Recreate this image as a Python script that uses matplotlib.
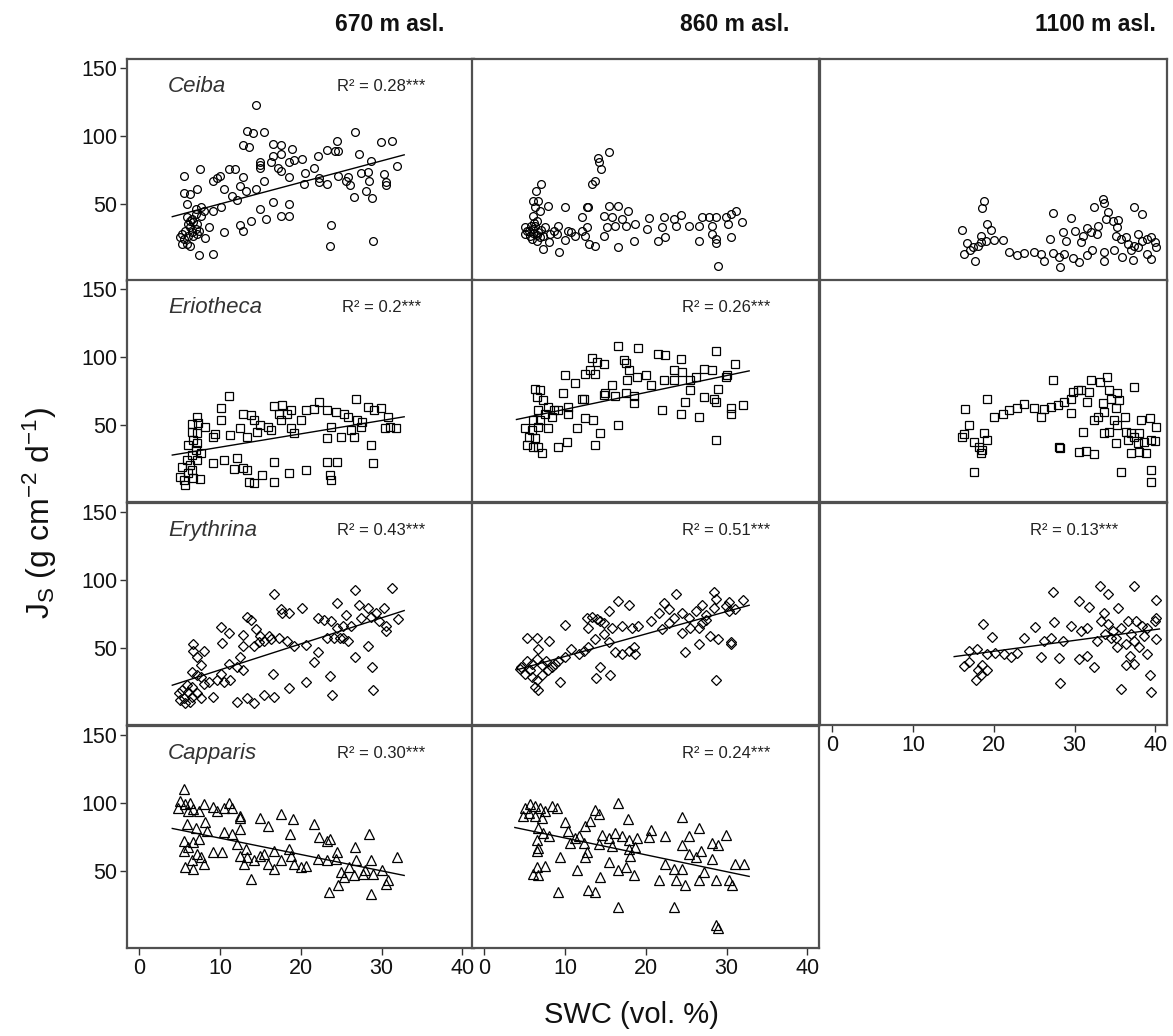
import matplotlib
matplotlib.use('Agg')
import matplotlib.pyplot as plt

plt.rcParams['font.family'] = ['Liberation Sans', 'DejaVu Sans']
plt.rcParams['mathtext.fontset'] = 'custom'
plt.rcParams['mathtext.rm'] = 'Liberation Sans'
plt.rcParams['mathtext.it'] = 'Liberation Sans:italic'

# column / row labels
sites = ['670 m asl.', '860 m asl.', '1100 m asl.']
species = ['Ceiba', 'Eriotheca', 'Erythrina', 'Capparis']

# (SWC %, Js) pairs
ceiba_670 = [(14.4, 122.4), (13.3, 103.7), (14.1, 102.2), (15.4, 103.2), (12.9, 93.4), (13.6, 92.0), (16.6, 94.4),
             (17.6, 93.4), (18.9, 90.7), (26.7, 103.2), (29.9, 95.6), (31.3, 96.3), (24.5, 95.9), (23.3, 89.5),
             (24.2, 89.0), (27.2, 86.6), (22.1, 85.1), (20.2, 83.4), (17.5, 86.6), (16.6, 84.9), (15.0, 81.2),
             (14.9, 78.8), (16.3, 80.5), (14.9, 76.3), (17.2, 76.8), (17.5, 74.4), (18.6, 69.5), (20.5, 72.7),
             (21.6, 76.1), (22.3, 69.0), (22.3, 65.9), (20.4, 64.6), (23.3, 64.6), (24.6, 70.2), (25.8, 69.5),
             (25.6, 67.1), (26.1, 64.1), (26.6, 54.9), (28.3, 73.2), (27.5, 72.4), (28.7, 81.7), (28.5, 67.1),
             (28.1, 59.3), (28.8, 54.4), (30.3, 72.0), (30.6, 66.3), (30.6, 64.1), (31.9, 77.6), (23.7, 34.9),
             (23.6, 19.5), (28.9, 22.7), (15.5, 67.1), (18.5, 50.0), (18.5, 41.0), (17.5, 41.0), (16.6, 51.7),
             (15.0, 46.3), (15.7, 39.0), (13.8, 37.8), (12.5, 34.9), (12.8, 30.5), (10.5, 29.8), (9.2, 13.4),
             (7.4, 12.7), (8.2, 24.9), (8.6, 33.4), (9.2, 45.1), (10.1, 47.6), (9.6, 69.0), (10.0, 70.7),
             (9.2, 66.6), (10.5, 61.0), (11.1, 75.6), (11.9, 75.6), (12.8, 70.0), (12.5, 63.4), (13.2, 59.8),
             (11.5, 56.1), (12.1, 53.2), (5.6, 70.7), (7.5, 75.6), (7.2, 61.0), (5.6, 57.8), (6.3, 57.3),
             (5.9, 50.0), (7.0, 46.3), (7.6, 47.6), (5.9, 40.2), (6.5, 39.0), (6.7, 36.6), (6.1, 35.4), (7.2, 35.4),
             (6.3, 32.9), (7.0, 31.7), (5.7, 30.5), (6.5, 29.3), (7.4, 30.5), (5.3, 28.0), (6.1, 26.8), (6.7, 26.8),
             (5.1, 26.1), (5.6, 24.4), (5.9, 20.7), (5.3, 20.7), (6.3, 19.5), (7.6, 41.5), (8.0, 45.1), (7.0, 42.7),
             (7.2, 28.0), (6.3, 37.8), (14.4, 61.0), (19.2, 82.4), (18.6, 81.2), (24.6, 89.0)]
ceiba_860 = [(15.5, 88.5), (14.1, 83.7), (14.2, 80.5), (14.5, 75.6), (13.3, 64.6), (13.7, 66.6), (7.0, 64.6),
             (6.4, 59.3), (6.1, 52.4), (6.7, 52.4), (6.3, 47.6), (6.9, 45.1), (7.9, 48.8), (10.0, 47.6), (12.7, 48.0),
             (12.9, 47.6), (12.1, 40.2), (15.4, 48.8), (16.6, 48.8), (17.8, 45.1), (14.8, 41.5), (15.8, 40.2),
             (17.1, 39.0), (17.5, 34.1), (18.7, 35.4), (20.4, 39.8), (22.2, 40.2), (23.5, 39.0), (24.4, 42.0),
             (23.7, 34.1), (25.3, 34.1), (26.6, 34.1), (27.0, 40.2), (27.8, 40.2), (28.7, 40.7), (29.9, 40.7),
             (30.5, 42.7), (31.2, 44.6), (31.9, 36.6), (30.2, 35.4), (28.2, 34.1), (28.2, 28.0), (28.7, 24.4),
             (28.7, 21.2), (30.5, 26.1), (26.6, 23.2), (22.0, 32.9), (22.4, 26.1), (21.5, 23.2), (20.2, 31.7),
             (18.5, 23.2), (16.6, 18.8), (15.2, 32.9), (14.8, 26.8), (13.7, 19.5), (13.0, 20.7), (12.7, 32.9),
             (12.1, 30.5), (12.5, 26.8), (9.3, 14.6), (7.3, 17.1), (8.0, 22.0), (6.5, 23.2), (9.2, 34.1),
             (10.4, 30.5), (11.3, 26.8), (10.0, 23.7), (5.05, 32.9), (5.5, 30.5), (6.1, 31.7), (6.7, 29.3),
             (7.3, 26.8), (5.7, 26.8), (5.05, 28.0), (6.3, 34.1), (7.5, 32.9), (8.2, 28.0), (6.9, 25.6), (5.9, 24.4),
             (6.0, 41.5), (6.5, 37.8), (28.9, 4.4), (8.6, 30.5), (9.0, 28.0), (10.8, 29.3), (16.2, 34.1),
             (5.3, 30.0), (6.0, 29.0), (6.6, 27.0), (7.0, 31.0), (5.8, 33.5), (6.2, 36.0)]
ceiba_1100 = [(18.8, 52.4), (18.6, 47.1), (16.1, 31.0), (19.2, 35.4), (19.6, 31.0), (18.4, 26.8), (19.0, 23.2),
              (20.0, 23.7), (21.1, 23.7), (16.7, 21.2), (17.4, 18.3), (18.0, 19.5), (18.4, 22.0), (16.3, 13.4),
              (17.1, 15.9), (17.7, 8.5), (21.9, 14.6), (22.9, 12.9), (23.8, 13.9), (25.0, 14.6), (25.8, 13.4),
              (26.2, 8.5), (27.3, 13.9), (28.1, 11.0), (28.2, 4.1), (27.3, 43.2), (27.0, 24.4), (29.5, 39.8),
              (28.6, 29.3), (30.0, 30.5), (31.1, 26.8), (31.5, 32.4), (32.0, 29.3), (32.8, 28.0), (32.9, 34.1),
              (32.4, 47.6), (28.9, 23.2), (30.8, 22.0), (29.8, 10.5), (30.6, 7.3), (31.6, 12.2), (32.2, 15.9),
              (33.5, 53.7), (33.7, 50.5), (34.1, 43.9), (33.9, 39.0), (34.7, 37.8), (35.4, 38.3), (33.6, 14.6),
              (33.7, 8.5), (34.9, 16.3), (35.1, 26.8), (35.7, 24.4), (36.6, 20.7), (37.4, 19.5), (35.9, 11.0),
              (37.2, 9.0), (37.3, 47.6), (38.3, 42.7), (35.3, 32.9), (37.8, 28.0), (38.4, 23.2), (39.0, 24.4),
              (39.5, 25.6), (39.9, 22.0), (40.1, 18.3), (39.0, 13.4), (39.4, 9.8), (37.0, 15.9), (37.8, 18.8),
              (36.4, 26.1), (28.7, 13.4)]
eriotheca_670 = [(11.1, 71.2), (10.1, 62.2), (10.1, 53.7), (7.1, 55.6), (7.3, 51.7), (6.5, 50.7), (6.5, 45.1),
                 (6.7, 39.0), (6.1, 35.4), (7.2, 43.9), (7.2, 36.6), (7.6, 29.3), (7.2, 24.4), (8.1, 48.3),
                 (9.2, 41.5), (9.4, 43.4), (11.3, 42.7), (12.5, 47.6), (13.4, 41.5), (12.9, 58.5), (13.8, 57.3),
                 (14.2, 53.7), (14.9, 50.0), (14.6, 45.1), (15.9, 48.8), (16.3, 46.3), (16.7, 63.9), (17.7, 64.6),
                 (17.3, 58.5), (18.3, 58.5), (18.8, 61.0), (17.5, 53.7), (18.8, 47.6), (19.2, 43.9), (20.0, 53.7),
                 (20.6, 61.0), (21.7, 61.5), (22.3, 67.1), (23.3, 61.0), (24.3, 59.8), (25.4, 58.5), (25.8, 56.1),
                 (23.7, 48.8), (25.0, 41.5), (23.3, 40.2), (26.8, 69.5), (26.2, 46.3), (26.6, 41.0), (27.5, 48.8),
                 (28.3, 63.4), (29.1, 61.0), (29.9, 62.2), (30.8, 56.1), (31.0, 48.8), (30.4, 47.6), (31.8, 47.6),
                 (28.7, 35.4), (28.9, 21.9), (27.0, 53.7), (27.6, 52.4), (9.2, 22.0), (10.5, 24.4), (12.1, 25.6),
                 (11.7, 17.6), (12.8, 18.3), (13.4, 17.1), (13.6, 8.5), (14.2, 7.3), (15.2, 13.4), (16.7, 23.2),
                 (16.7, 8.5), (18.6, 14.6), (20.6, 17.1), (23.3, 23.2), (24.5, 23.2), (23.6, 13.4), (23.8, 9.8),
                 (5.1, 12.2), (5.5, 9.8), (5.7, 6.1), (6.1, 14.6), (6.5, 17.1), (6.3, 20.7), (5.3, 19.5), (6.7, 11.0),
                 (5.9, 24.4), (6.5, 28.0), (7.0, 31.7), (7.5, 10.2)]
eriotheca_860 = [(16.6, 107.8), (19.0, 106.8), (21.5, 102.4), (22.4, 101.2), (24.4, 98.8), (28.7, 104.4),
                 (31.1, 95.1), (13.3, 99.5), (14.0, 96.3), (14.8, 94.6), (17.3, 98.0), (17.5, 95.6), (17.9, 90.2),
                 (10.0, 86.6), (11.2, 81.0), (12.5, 87.8), (13.1, 90.2), (13.7, 87.8), (9.8, 73.7), (12.3, 69.5),
                 (15.0, 73.2), (15.8, 79.3), (17.7, 83.4), (18.9, 85.4), (20.0, 86.6), (20.7, 79.3), (22.2, 82.9),
                 (23.5, 90.2), (23.5, 83.4), (24.5, 89.0), (25.5, 82.9), (26.2, 85.4), (27.2, 91.5), (28.2, 90.2),
                 (29.9, 85.4), (30.1, 86.6), (14.8, 72.0), (16.2, 71.2), (17.5, 73.2), (18.5, 71.2), (18.5, 65.9),
                 (22.0, 61.0), (24.4, 58.5), (26.6, 56.1), (24.9, 67.1), (27.2, 70.7), (28.4, 69.5), (28.9, 76.8),
                 (28.7, 67.1), (25.5, 76.1), (30.5, 62.2), (30.6, 58.5), (32.0, 64.6), (28.7, 39.0), (9.2, 61.0),
                 (10.4, 58.5), (10.4, 63.4), (12.1, 68.8), (12.5, 54.9), (13.5, 53.7), (11.5, 47.6), (14.4, 44.4),
                 (16.6, 50.0), (13.7, 35.4), (10.2, 37.8), (9.2, 33.7), (6.3, 76.8), (6.9, 75.6), (6.5, 70.7),
                 (7.3, 68.3), (7.9, 63.4), (6.7, 61.0), (7.5, 58.5), (6.1, 53.7), (6.9, 53.7), (8.4, 56.1),
                 (5.1, 47.6), (5.9, 46.3), (6.7, 48.8), (7.9, 47.6), (5.5, 41.5), (6.3, 40.2), (5.3, 35.4),
                 (6.1, 34.1), (6.7, 34.1), (7.1, 29.3), (8.6, 61.0)]
eriotheca_1100 = [(16.5, 61.5), (16.9, 50.0), (16.3, 43.4), (16.1, 41.5), (19.2, 68.8), (17.6, 37.8), (18.2, 34.1),
                  (18.6, 31.7), (19.2, 39.0), (18.4, 29.3), (17.5, 15.9), (18.8, 44.4), (20.0, 56.1), (21.1, 58.5),
                  (21.9, 61.0), (22.9, 62.2), (23.8, 65.4), (25.0, 62.7), (26.2, 61.5), (27.1, 63.4), (27.9, 64.6),
                  (28.7, 67.1), (29.5, 69.5), (30.4, 75.6), (27.3, 82.9), (25.8, 55.6), (29.5, 59.0), (29.8, 74.4),
                  (30.8, 75.6), (31.6, 67.1), (31.8, 74.4), (32.0, 83.4), (33.1, 81.7), (34.0, 85.4), (33.5, 65.9),
                  (33.7, 59.8), (34.3, 75.6), (34.5, 69.5), (35.3, 73.2), (35.1, 62.2), (35.5, 68.3), (37.4, 78.0),
                  (32.4, 53.7), (32.9, 56.1), (34.9, 53.7), (35.3, 50.0), (36.2, 56.1), (31.1, 45.1), (33.7, 44.4),
                  (34.3, 45.1), (35.1, 37.1), (36.4, 45.1), (36.6, 39.0), (37.4, 41.5), (38.0, 43.9), (38.2, 53.7),
                  (39.3, 54.9), (40.1, 48.3), (37.8, 36.6), (38.6, 37.8), (39.5, 39.0), (39.9, 38.5), (38.0, 30.5),
                  (37.0, 29.3), (38.8, 29.8), (28.1, 34.1), (28.2, 33.4), (30.6, 30.5), (31.4, 31.2), (32.4, 28.8),
                  (35.7, 15.9), (39.4, 17.1), (39.5, 8.5), (37.0, 43.9)]
erythrina_670 = [(16.7, 89.6), (13.3, 72.7), (13.8, 70.3), (14.4, 63.8), (10.1, 65.5), (11.1, 61.4), (10.3, 53.4),
                 (12.8, 59.7), (17.6, 78.3), (18.6, 75.8), (20.2, 79.5), (17.7, 75.8), (22.1, 72.2), (22.9, 70.3),
                 (23.7, 69.8), (24.5, 83.1), (25.6, 74.6), (26.7, 92.8), (27.2, 81.9), (28.3, 79.5), (29.3, 75.8),
                 (30.3, 79.5), (31.3, 94.4), (30.6, 66.2), (30.6, 62.6), (32.0, 71.0), (29.7, 69.8), (28.7, 72.7),
                 (27.5, 72.2), (26.2, 66.2), (25.2, 66.2), (24.5, 65.0), (23.3, 57.7), (24.1, 57.7), (24.8, 57.7),
                 (25.2, 57.7), (25.8, 55.3), (28.3, 51.7), (26.7, 43.2), (28.8, 36.0), (29.0, 19.1), (23.6, 29.2),
                 (23.9, 15.5), (22.1, 46.9), (21.6, 39.6), (20.6, 25.1), (18.6, 20.3), (16.7, 14.3), (16.6, 31.2),
                 (15.5, 15.5), (14.2, 9.4), (13.4, 13.0), (12.1, 10.6), (12.9, 51.7), (9.2, 14.3), (7.6, 13.0),
                 (12.9, 33.6), (20.6, 52.4), (19.2, 51.7), (18.3, 55.3), (17.3, 57.7), (16.3, 56.5), (15.4, 55.3),
                 (14.8, 54.1), (14.2, 51.7), (15.0, 58.9), (16.1, 58.9), (12.5, 43.2), (12.1, 36.0), (11.1, 38.4),
                 (10.1, 31.2), (11.3, 26.3), (10.5, 25.1), (9.6, 26.3), (8.6, 25.1), (8.0, 23.9), (7.6, 28.7),
                 (6.7, 52.9), (6.7, 48.1), (7.2, 43.2), (7.6, 37.2), (8.0, 48.1), (6.5, 32.4), (7.2, 29.9),
                 (4.9, 16.7), (5.5, 13.0), (5.7, 9.4), (6.1, 17.9), (6.5, 21.5), (5.9, 22.7), (5.3, 19.1),
                 (5.1, 11.8), (6.5, 14.3), (7.2, 16.7), (6.3, 10.6)]
erythrina_860 = [(23.7, 89.9), (28.4, 91.1), (28.7, 86.2), (32.0, 85.5), (31.1, 78.3), (30.3, 83.8), (16.6, 84.8),
                 (17.9, 81.9), (15.4, 77.1), (12.7, 72.2), (13.3, 72.7), (14.0, 71.0), (14.4, 69.8), (14.8, 68.6),
                 (12.9, 65.0), (10.0, 66.9), (15.8, 65.0), (17.1, 66.2), (18.3, 65.0), (19.1, 66.2), (20.6, 69.8),
                 (21.6, 75.8), (22.2, 83.1), (22.9, 78.3), (23.5, 72.2), (24.5, 75.8), (25.3, 72.2), (26.2, 77.5),
                 (27.0, 81.9), (27.4, 74.6), (28.4, 79.5), (29.9, 80.7), (30.3, 77.1), (22.0, 63.8), (22.9, 68.6),
                 (24.5, 61.4), (25.5, 64.5), (26.6, 65.0), (27.0, 68.6), (27.4, 70.3), (24.9, 46.9), (26.6, 52.9),
                 (28.0, 58.9), (28.9, 56.5), (30.5, 52.9), (30.6, 54.1), (28.7, 26.3), (16.2, 46.9), (17.1, 45.7),
                 (17.9, 48.1), (18.7, 45.7), (18.5, 50.5), (15.4, 54.1), (14.8, 60.1), (13.7, 56.5), (12.9, 50.5),
                 (12.3, 48.1), (11.7, 45.7), (10.8, 49.3), (10.0, 43.2), (9.2, 40.8), (8.8, 38.4), (14.4, 36.0),
                 (15.6, 30.0), (13.9, 28.3), (9.4, 25.1), (5.3, 57.2), (6.5, 57.2), (8.0, 55.3), (6.7, 49.3),
                 (4.6, 36.0), (5.3, 40.8), (5.9, 38.4), (6.5, 42.0), (7.1, 37.2), (7.7, 40.8), (8.4, 36.0),
                 (5.1, 31.2), (5.9, 28.7), (6.5, 26.3), (7.1, 30.0), (7.9, 33.6), (6.3, 21.5), (6.7, 19.1),
                 (5.7, 33.6), (4.4, 34.8)]
erythrina_1100 = [(18.7, 67.9), (19.8, 58.2), (23.8, 57.2), (25.1, 65.7), (27.3, 91.5), (27.4, 69.3), (16.9, 48.1),
                  (17.9, 49.3), (19.2, 45.7), (20.2, 46.1), (21.3, 45.7), (22.1, 43.2), (22.9, 46.1), (16.3, 36.5),
                  (16.9, 39.6), (18.0, 33.6), (18.6, 37.2), (19.2, 33.6), (17.8, 26.3), (18.4, 30.0), (25.8, 43.7),
                  (28.1, 42.8), (28.2, 24.4), (26.2, 55.3), (27.1, 57.2), (28.6, 55.3), (29.5, 66.2), (30.8, 62.6),
                  (31.6, 65.0), (30.6, 84.8), (31.8, 80.0), (33.1, 95.9), (34.1, 89.6), (35.4, 79.5), (37.4, 95.2),
                  (40.1, 85.5), (30.6, 42.0), (31.5, 44.4), (32.4, 36.0), (32.8, 55.3), (33.3, 69.8), (33.7, 75.8),
                  (34.1, 67.4), (34.7, 62.6), (35.1, 57.7), (35.7, 65.0), (36.6, 69.8), (37.6, 69.8), (38.4, 66.2),
                  (39.0, 65.0), (39.9, 69.8), (40.1, 72.2), (35.3, 50.5), (36.4, 52.9), (37.4, 55.3), (38.0, 50.5),
                  (36.8, 44.4), (36.4, 37.2), (37.4, 38.4), (39.0, 45.7), (40.1, 56.5), (39.3, 30.0), (39.5, 17.9),
                  (35.8, 19.6), (33.8, 60.1), (34.5, 57.7), (37.0, 60.1), (38.6, 58.9)]
capparis_670 = [(5.6, 110.0), (5.1, 101.5), (5.7, 99.0), (6.3, 100.2), (6.7, 95.4), (7.4, 94.2), (8.0, 99.0),
                (9.2, 97.1), (9.6, 94.2), (10.5, 96.1), (11.1, 100.2), (11.5, 96.1), (12.5, 90.5), (12.5, 89.3),
                (4.8, 96.1), (6.1, 94.2), (5.9, 84.5), (7.0, 82.0), (8.2, 85.7), (8.4, 79.6), (10.5, 78.4),
                (11.5, 77.2), (12.5, 80.8), (15.0, 89.3), (15.9, 83.3), (17.5, 91.7), (19.0, 88.1), (18.7, 77.2),
                (21.7, 84.5), (22.2, 74.8), (23.3, 72.3), (23.6, 73.5), (28.5, 77.2), (26.7, 68.0), (24.5, 63.8),
                (24.4, 59.0), (23.3, 57.8), (22.1, 59.0), (28.7, 57.8), (31.9, 60.2), (30.1, 50.5), (30.8, 43.2),
                (30.6, 40.8), (28.7, 33.5), (26.0, 52.9), (26.8, 57.8), (27.9, 50.5), (23.5, 34.7), (24.6, 39.6),
                (25.4, 45.6), (25.0, 49.3), (26.6, 46.8), (27.7, 48.1), (28.9, 48.1), (12.1, 69.9), (13.2, 66.3),
                (13.4, 60.2), (14.2, 57.8), (15.0, 61.4), (15.9, 55.3), (16.7, 51.7), (17.5, 57.8), (18.6, 66.3),
                (19.2, 55.3), (20.0, 52.9), (20.6, 54.1), (18.8, 61.4), (13.8, 44.4), (16.7, 65.0), (15.4, 62.6),
                (13.0, 55.3), (12.5, 61.4), (5.5, 65.0), (6.1, 67.5), (6.7, 71.1), (7.2, 62.6), (7.6, 60.2),
                (6.5, 57.8), (5.7, 52.9), (6.7, 51.7), (8.0, 55.3), (9.2, 63.8), (10.2, 63.8), (5.5, 72.3),
                (7.4, 73.5)]
capparis_860 = [(16.6, 100.2), (24.5, 89.8), (17.8, 88.1), (10.0, 85.7), (13.7, 94.7), (14.2, 91.7), (13.1, 86.9),
                (12.5, 83.3), (5.1, 96.6), (5.7, 99.0), (6.3, 97.8), (6.9, 96.6), (7.5, 94.2), (5.5, 92.9),
                (6.3, 90.5), (8.4, 97.8), (9.0, 96.6), (4.8, 90.5), (7.1, 89.3), (6.7, 81.6), (7.3, 78.0), (8.0, 75.5),
                (6.5, 73.1), (6.7, 67.0), (10.4, 79.2), (11.3, 74.3), (12.3, 70.7), (10.6, 70.7), (11.7, 75.5),
                (14.6, 76.8), (15.4, 74.3), (16.2, 77.9), (17.1, 75.5), (17.9, 73.1), (18.9, 74.3), (20.6, 80.4),
                (22.4, 75.5), (24.5, 69.4), (25.3, 75.5), (26.6, 81.6), (28.2, 70.7), (28.9, 69.4), (29.9, 76.8),
                (14.2, 69.9), (15.8, 68.7), (17.9, 66.3), (18.7, 67.5), (20.4, 74.8), (18.1, 61.4), (9.4, 60.2),
                (11.5, 50.5), (12.7, 63.8), (12.5, 60.2), (14.4, 45.6), (15.4, 56.6), (16.6, 50.5), (17.5, 52.9),
                (18.5, 46.8), (12.9, 35.9), (13.7, 34.7), (9.2, 34.7), (16.6, 23.8), (6.5, 52.9), (6.7, 46.8),
                (6.1, 48.1), (7.5, 54.1), (6.5, 65.0), (21.6, 43.2), (22.4, 55.3), (23.5, 51.7), (23.7, 43.2),
                (24.5, 51.7), (24.9, 39.6), (25.3, 62.6), (26.2, 60.2), (26.8, 65.0), (26.6, 43.2), (27.2, 49.3),
                (28.2, 59.0), (28.7, 43.2), (30.3, 43.2), (30.7, 39.6), (31.1, 55.3), (32.2, 55.3), (23.5, 23.8),
                (28.7, 10.4), (28.9, 8.0)]

# regression line end points (SWC, Js) and R² labels
fit_lines = {
    ('Ceiba', 0): [(4.1, 40.7), (32.8, 86.1)],
    ('Eriotheca', 0): [(4.1, 28.0), (32.8, 56.1)],
    ('Eriotheca', 1): [(4.0, 54.1), (32.8, 89.8)],
    ('Erythrina', 0): [(4.1, 22.7), (32.8, 77.5)],
    ('Erythrina', 1): [(4.1, 34.1), (32.8, 81.4)],
    ('Erythrina', 2): [(15.1, 43.7), (40.5, 64.0)],
    ('Capparis', 0): [(4.1, 81.3), (32.8, 46.8)],
    ('Capparis', 1): [(3.8, 82.0), (32.8, 46.1)],
}
r2_labels = {
    ('Ceiba', 0): '0.28', ('Eriotheca', 0): '0.2', ('Eriotheca', 1): '0.26',
    ('Erythrina', 0): '0.43', ('Erythrina', 1): '0.51', ('Erythrina', 2): '0.13',
    ('Capparis', 0): '0.30', ('Capparis', 1): '0.24',
}

panel_data = {
    'Ceiba': [ceiba_670, ceiba_860, ceiba_1100],
    'Eriotheca': [eriotheca_670, eriotheca_860, eriotheca_1100],
    'Erythrina': [erythrina_670, erythrina_860, erythrina_1100],
    'Capparis': [capparis_670, capparis_860, None],
}
markers = {'Ceiba': ('o', 5.6), 'Eriotheca': ('s', 5.6), 'Erythrina': ('D', 5.0), 'Capparis': ('^', 6.8)}

fig = plt.figure(figsize=(11.73, 10.36), dpi=100)

lefts = [0.1083, 0.4024, 0.6991]
bottoms = [0.7288, 0.5154, 0.3002, 0.0849]
w, h = 0.2962, 0.2143
frame_col = '#505050'

for r, sp in enumerate(species):
    for c in range(3):
        pts = panel_data[sp][c]
        if pts is None:
            continue
        ax = fig.add_axes([lefts[c], bottoms[r], w, h])
        xs = [p[0] for p in pts]
        ys = [p[1] for p in pts]
        mk, ms = markers[sp]
        ax.plot(xs, ys, linestyle='none', marker=mk, ms=ms, mfc='none', mec='black', mew=0.9)
        if (sp, c) in fit_lines:
            (x0, y0), (x1, y1) = fit_lines[(sp, c)]
            ax.plot([x0, x1], [y0, y1], color='black', lw=1.0)
        if (sp, c) in r2_labels:
            ax.text(30, 136, 'R² = ' + r2_labels[(sp, c)] + '***', ha='center', va='center',
                    fontsize=12, color='#222222')
        if c == 0:
            ax.text(3.6, 136, sp, ha='left', va='center', fontsize=16, style='italic', color='#333333')

        ax.set_xlim(-1.5, 41.5)
        ax.set_ylim(-6.5, 156.5)
        ax.set_xticks([0, 10, 20, 30, 40])
        ax.set_yticks([50, 100, 150])
        for s in ax.spines.values():
            s.set_color(frame_col)
            s.set_linewidth(1.6)
        show_x = (r == 3) or (r == 2 and c == 2)
        ax.tick_params(axis='x', bottom=show_x, labelbottom=show_x, length=5, width=1,
                       color='#333333', labelsize=15.5, labelcolor='#111111', pad=2)
        ax.tick_params(axis='y', left=(c == 0), labelleft=(c == 0), length=5, width=1,
                       color='#333333', labelsize=15.5, labelcolor='#111111', pad=2)

# column titles
for c, site in enumerate(sites):
    fig.text([0.3325, 0.6266, 0.9335][c], 0.976, site, ha='center', va='center',
             fontsize=16.5, fontweight='bold', color='#111111')

fig.text(0.034, 0.505, r'J$_\mathrm{S}$ (g cm$^{-2}$ d$^{-1}$)', rotation=90,
         ha='center', va='center', fontsize=23, color='#111111')
fig.text(0.538, 0.020, 'SWC (vol. %)', ha='center', va='center', fontsize=21, color='#111111')

fig.savefig('out.png', dpi=100)
